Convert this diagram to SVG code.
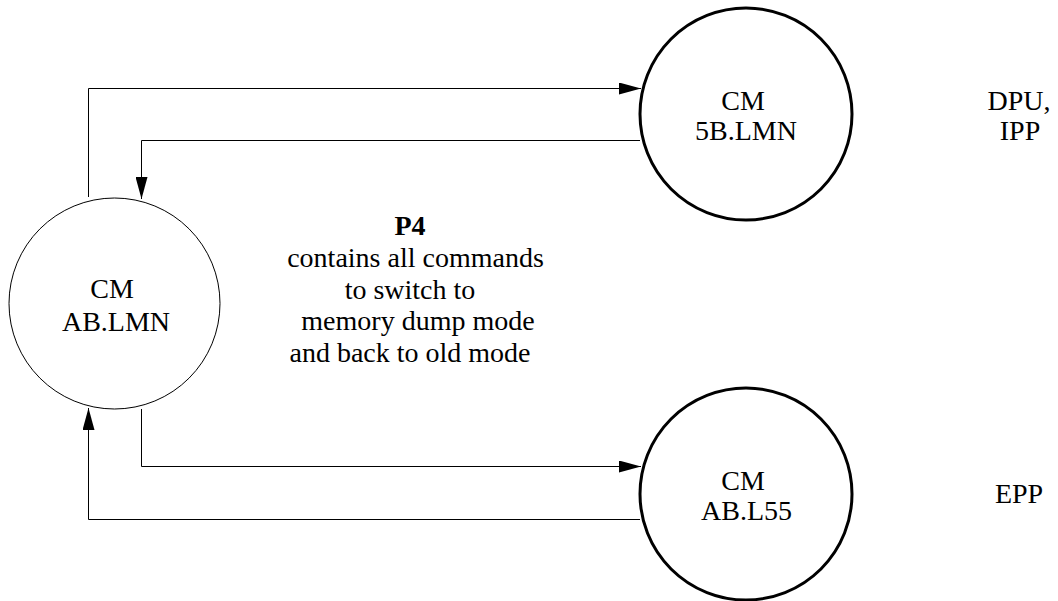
<svg xmlns="http://www.w3.org/2000/svg" width="1058" height="601" viewBox="0 0 1058 601">
  <style>
    text { font-family: "Liberation Serif", "Times New Roman", serif; font-size: 28px; fill: #000; text-anchor: middle; }
    .bold { font-weight: bold; }
    .node-thin { fill: #fff; stroke: #000; stroke-width: 1; }
    .node-thick { fill: #fff; stroke: #000; stroke-width: 3; }
    .wire { fill: none; stroke: #000; stroke-width: 1; }
  </style>
  <defs>
    <marker id="arrow" markerUnits="userSpaceOnUse" markerWidth="22" markerHeight="12" refX="22" refY="6" orient="auto">
      <path d="M0,0 L22,6 L0,12 Z" fill="#000"/>
    </marker>
  </defs>
  <rect width="1058" height="601" fill="#fff"/>

  <!-- connectors -->
  <g id="connectors">
    <polyline class="wire" points="88.5,197 88.5,88.5 641,88.5" marker-end="url(#arrow)"/>
    <polyline class="wire" points="640,140.5 141.5,140.5 141.5,199" marker-end="url(#arrow)"/>
    <polyline class="wire" points="141.5,409 141.5,466.5 641,466.5" marker-end="url(#arrow)"/>
    <polyline class="wire" points="640,519.5 88.5,519.5 88.5,408" marker-end="url(#arrow)"/>
  </g>

  <!-- central source node -->
  <g id="node-ab-lmn">
    <circle class="node-thin" cx="114.5" cy="303.5" r="105.5"/>
    <text x="112" y="298">CM</text>
    <text x="116" y="331">AB.LMN</text>
  </g>

  <!-- upper target node -->
  <g id="node-5b-lmn">
    <circle class="node-thick" cx="746" cy="114" r="106"/>
    <text x="743" y="110">CM</text>
    <text x="746" y="140">5B.LMN</text>
  </g>

  <!-- lower target node -->
  <g id="node-ab-l55">
    <circle class="node-thick" cx="746" cy="494" r="106"/>
    <text x="743" y="490">CM</text>
    <text x="746.5" y="520">AB.L55</text>
  </g>

  <!-- procedure note -->
  <g id="note-p4">
    <text class="bold" x="410" y="235">P4</text>
    <text x="415.5" y="267">contains all commands</text>
    <text x="410" y="299">to switch to</text>
    <text x="418" y="330">memory dump mode</text>
    <text x="410" y="362">and back to old mode</text>
  </g>

  <!-- side labels -->
  <g id="label-dpu-ipp">
    <text x="1019" y="110">DPU,</text>
    <text x="1020" y="140">IPP</text>
  </g>
  <g id="label-epp">
    <text x="1019" y="503">EPP</text>
  </g>
</svg>
